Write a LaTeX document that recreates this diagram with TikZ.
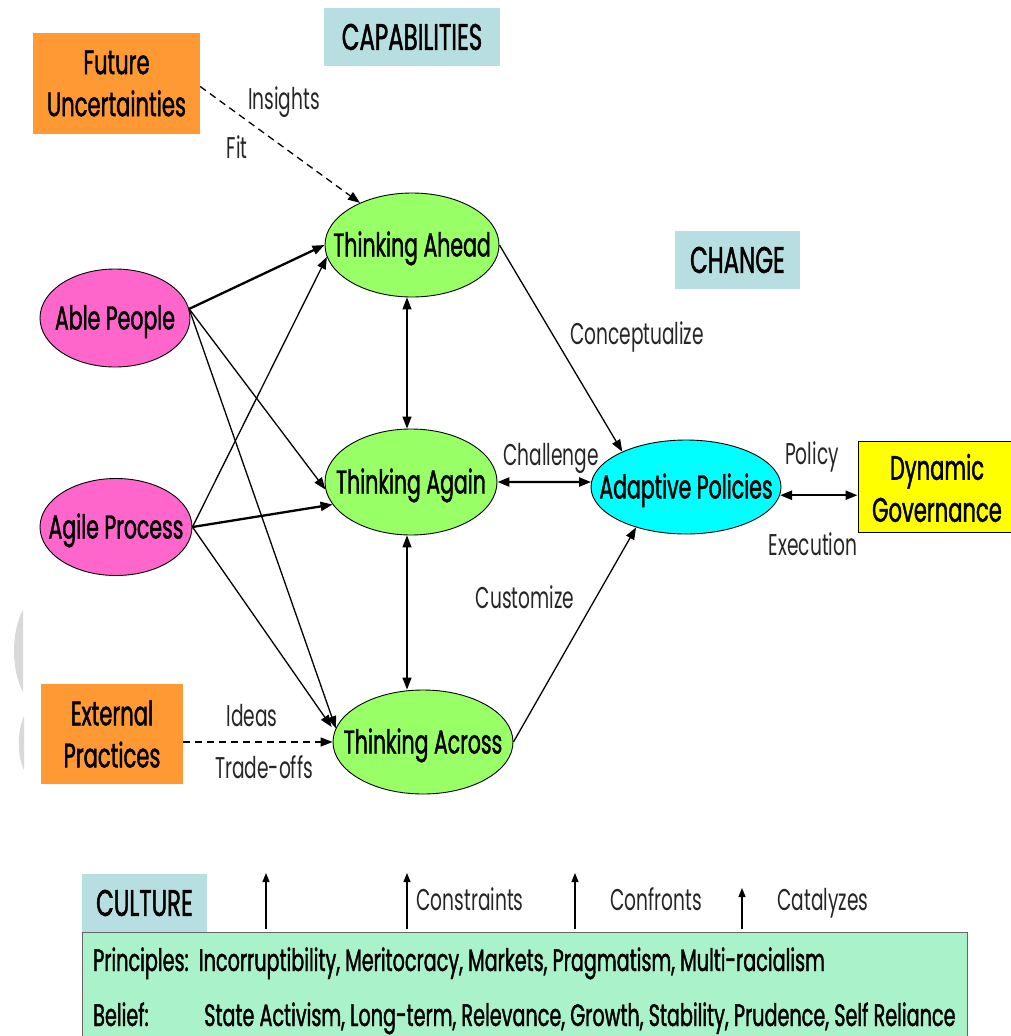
\documentclass[tikz,border=0pt]{standalone}
\usepackage{fontspec}
\setmainfont{Poppins}[FakeStretch=0.62]
\newfontfamily\boxfont{Poppins}[FakeStretch=0.62,FakeBold=1.2]
\newfontfamily\tagfont{Poppins}[FakeStretch=0.62]
\usetikzlibrary{shapes.geometric,arrows.meta}

\definecolor{leaf}{HTML}{99FF66}
\definecolor{pinkish}{HTML}{FF66CC}
\definecolor{aqua}{HTML}{00FFFF}
\definecolor{tangerine}{HTML}{FF9933}
\definecolor{paleblue}{HTML}{B7DFE2}
\definecolor{mint}{HTML}{AAF2C9}
\definecolor{lemon}{HTML}{FFFF00}

% text of fixed-size ellipses must not widen them
\newcommand{\inbubble}[1]{\makebox[0pt]{#1}}

\begin{document}
\begin{tikzpicture}[x=1pt,y=-1pt,
  bubble/.style={ellipse, draw=black, line width=0.9pt, inner sep=0pt,
    text height=23pt, text depth=0pt,
    font=\boxfont\fontsize{33}{42}\selectfont},
  block/.style={rectangle, inner sep=0pt, align=center,
    font=\boxfont\fontsize{34}{42}\selectfont},
  heading/.style={rectangle, fill=paleblue, inner sep=0pt,
    font=\boxfont\fontsize{37}{42}\selectfont},
  lbl/.style={inner sep=0pt, text=black!85, text height=20pt, text depth=4pt,
    font=\tagfont\fontsize{30}{34}\selectfont},
  thinarr/.style={line width=1.3pt, -{Triangle[length=12pt,width=9pt]}},
  thickarr/.style={line width=2.3pt, -{Triangle[length=12pt,width=9pt]}},
  thinboth/.style={line width=1.3pt, {Triangle[length=12pt,width=9pt]}-{Triangle[length=12pt,width=9pt]}},
  thickboth/.style={line width=2.3pt, {Triangle[length=12pt,width=9pt]}-{Triangle[length=12pt,width=9pt]}},
  dashedarr/.style={line width=1.3pt, dash pattern=on 7pt off 5pt, -{Triangle[length=12pt,width=9pt]}},
  uparrow/.style={line width=1.2pt, -{Triangle[length=9pt,width=7pt]}},
  bodytext/.style={inner sep=0pt, anchor=base west, font=\boxfont\fontsize{31}{34}\selectfont}
]
\useasboundingbox (0,0) rectangle (1010,1036);

% faint marks along the left edge
\fill[black!15] (23,610) .. controls (11,632) and (11,670) .. (23,692) -- cycle;
\fill[black!15] (24,716) .. controls (17,732) and (17,755) .. (24,770) -- cycle;

% section headings
\node[heading, minimum width=176pt, minimum height=58pt] (cap) at (412,37) {CAPABILITIES};
\node[heading, minimum width=125pt, minimum height=58pt] (chg) at (737.5,260) {CHANGE};

% source boxes
\node[block, fill=tangerine, minimum width=167pt, minimum height=101pt] (future) at (116.5,83.5) {Future\\Uncertainties};
\node[block, fill=tangerine, minimum width=142pt, minimum height=100pt] (external) at (112,734) {External\\Practices};
\node[block, fill=lemon, draw=black, line width=1pt, minimum width=160pt, minimum height=91pt] (gov) at (938,486.5) {};
\node[block] (govtext) at (937,488) {Dynamic\\Governance};

% ellipses
\node[bubble, fill=pinkish, minimum width=150pt, minimum height=98pt] (able) at (115,318) {\inbubble{Able People}};
\node[bubble, fill=pinkish, minimum width=152pt, minimum height=97pt] (agile) at (116,527) {\inbubble{Agile Process}};
\node[bubble, fill=leaf, minimum width=174pt, minimum height=104pt] (ahead) at (412,245) {\inbubble{Thinking Ahead}};
\node[bubble, fill=leaf, minimum width=172pt, minimum height=106pt] (again) at (411,482) {\inbubble{Thinking Again}};
\node[bubble, fill=leaf, minimum width=180pt, minimum height=104pt] (across) at (423,742) {\inbubble{Thinking Across}};
\node[bubble, fill=aqua, minimum width=190pt, minimum height=94pt] (adaptive) at (686,487) {\inbubble{Adaptive Policies}};

% connectors into the thinking capabilities
\draw[dashedarr] ([yshift=-3pt]future.east) -- (ahead.141);
\draw[thickarr] (able.7) -- (ahead.180);
\draw[thinarr] (able.7) -- (again.185);
\draw[thinarr] (able.7) -- (across.171);
\draw[thinarr] (agile.east) -- (ahead.188);
\draw[thickarr] (agile.east) -- (again.196);
\draw[thinarr, shorten >=5pt] (agile.east) -- (across.173);
\draw[dashedarr] (external.east |- across.west) -- (across.west);

% links among capabilities and towards change
\draw[thinboth] (ahead.south -| 407,0) -- (again.north -| 407,0);
\draw[thinboth] (again.south -| 407,0) -- (across.north -| 407,0);
\draw[thinarr] (ahead.0) -- (adaptive.151);
\draw[thinarr] (across.0) -- (adaptive.219);
\draw[thickboth] (again.east) -- (adaptive.177);
\draw[thickboth] (adaptive.-5) -- (gov.west |- adaptive.-5);

% connector labels
\node[lbl] (l1) at (284,101) {Insights};
\node[lbl] (l2) at (237,150) {Fit};
\node[lbl] (l3) at (637,336) {Conceptualize};
\node[lbl] (l4) at (551,457) {Challenge};
\node[lbl] (l5) at (812,456) {Policy};
\node[lbl] (l6) at (813,547) {Execution};
\node[lbl] (l7) at (525,600) {Customize};
\node[lbl] (l8) at (252,718) {Ideas};
\node[lbl] (l9) at (264,770) {Trade-offs};

% culture base
\node[heading, minimum width=125pt, minimum height=58pt] (cult) at (144.5,903) {CULTURE};
\node[rectangle, fill=mint, draw=black!60, line width=1pt, minimum width=885pt, minimum height=120pt, inner sep=0pt] (base) at (524.5,992) {};
\node[bodytext] (pr) at (93,971) {Principles:\ \ Incorruptibility, Meritocracy, Markets, Pragmatism, Multi-racialism};
\node[bodytext] (be1) at (93,1026) {Belief:};
\node[bodytext] (be2) at (204,1026) {State Activism, Long-term, Relevance, Growth, Stability, Prudence, Self Reliance};

\coordinate (c1) at (266,929); \coordinate (t1) at (266,873);
\coordinate (c2) at (407,929); \coordinate (t2) at (407,873);
\coordinate (c3) at (575,929); \coordinate (t3) at (575,873);
\coordinate (c4) at (742,929); \coordinate (t4) at (742,888);
\draw[uparrow] (c1) -- (t1);
\draw[uparrow] (c2) -- (t2);
\draw[uparrow] (c3) -- (t3);
\draw[uparrow] (c4) -- (t4);
\node[lbl] (k1) at (470,902) {Constraints};
\node[lbl] (k2) at (656,902) {Confronts};
\node[lbl] (k3) at (823,902) {Catalyzes};
\end{tikzpicture}
\end{document}
